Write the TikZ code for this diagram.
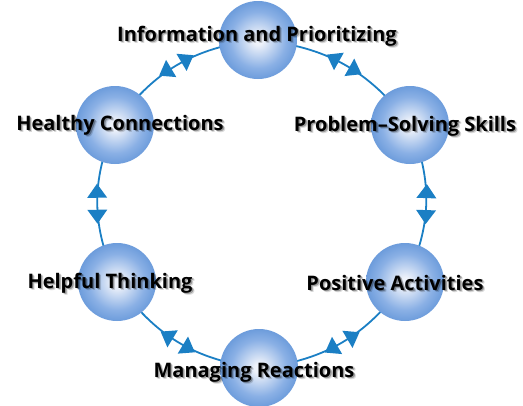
\documentclass[tikz,border=0pt]{standalone}
\usepackage{fontspec}
\setmainfont{Open Sans}
\usetikzlibrary{decorations.markings}
\pgfdeclarelayer{background}
\pgfsetlayers{background,main}
\definecolor{linecol}{HTML}{1B7FC4}
\definecolor{balllight}{HTML}{EEF2FA}
\definecolor{ballmid}{HTML}{8AB0E5}
\definecolor{balldark}{HTML}{4380CE}
\pgfdeclareradialshading{ballshade}{\pgfpoint{0bp}{0bp}}{color(0bp)=(balllight); color(3bp)=(balllight); color(18bp)=(ballmid); color(35bp)=(balldark); color(70bp)=(balldark)}
\tikzset{
  ball/.style={circle, minimum size=78pt, inner sep=0pt, shading=ballshade},
  conn/.style={draw=linecol, line width=1.8pt,
    postaction={decorate, decoration={markings,
      mark=at position 0.5 with {
        \fill[linecol] (20pt,0pt) -- (6pt,10pt) -- (6pt,-10pt) -- cycle;
        \fill[linecol] (-20pt,0pt) -- (-6pt,10pt) -- (-6pt,-10pt) -- cycle;}}}},
  lbl/.style={font=\fontsize{20}{24}\selectfont\bfseries, text=black, inner sep=0pt},
  shadowA/.style={lbl, text=black, opacity=0.3},
  shadowB/.style={lbl, text=black, opacity=0.15}
}
\newcommand{\mylabel}[3]{%
  \node[shadowB] (#1s2) at ([shift={(2.4,2.4)}]#2) {#3};
  \node[shadowA] (#1s1) at ([shift={(1.4,1.4)}]#2) {#3};
  \node[lbl] (#1) at (#2) {#3};
}
\begin{document}
\begin{tikzpicture}[x=1pt,y=-1pt]
\useasboundingbox (0,0) rectangle (523,405);
\node[ball] (top) at (258,40) {};
\node[ball] (tr) at (410,125) {};
\node[ball] (br) at (405,282) {};
\node[ball] (bot) at (259,368) {};
\node[ball] (bl) at (117,282) {};
\node[ball] (tl) at (115,125) {};
\begin{pgfonlayer}{background}
\path[conn] (top.center) to[bend left=24] (tr.center);
\path[conn] (tr.center) to[bend left=24] (br.center);
\path[conn] (br.center) to[bend left=24] (bot.center);
\path[conn] (bot.center) to[bend left=24] (bl.center);
\path[conn] (bl.center) to[bend left=24] (tl.center);
\path[conn] (tl.center) to[bend left=24] (top.center);
\end{pgfonlayer}
\mylabel{t1}{257,36}{Information and Prioritizing}
\mylabel{t2}{405,126}{Problem–Solving Skills}
\mylabel{t3}{120,125}{Healthy Connections}
\mylabel{t4}{110,283}{Helpful Thinking}
\mylabel{t5}{395,283}{Positive Activities}
\mylabel{t6}{254,372}{Managing Reactions}
\end{tikzpicture}
\end{document}
